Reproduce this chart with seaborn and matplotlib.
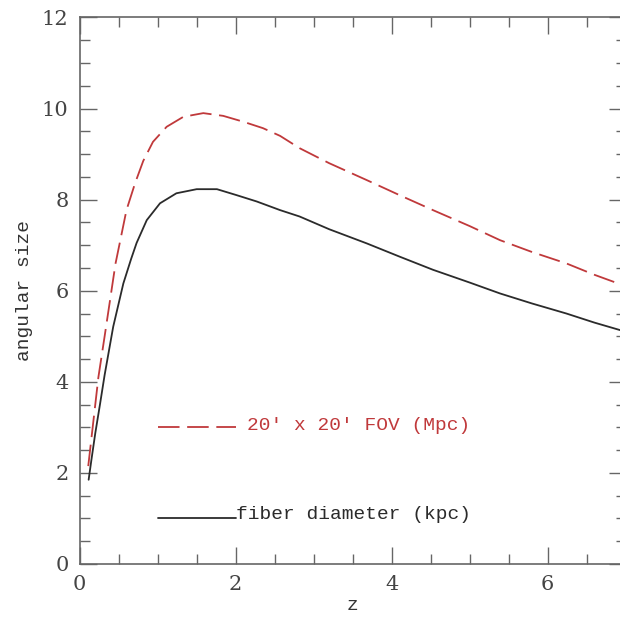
import matplotlib
matplotlib.use("Agg")
import matplotlib.pyplot as plt
import seaborn as sns
import pandas as pd
from matplotlib.ticker import MultipleLocator

# ---- data ----
z_fiber = [0.115, 0.15, 0.20, 0.26, 0.32, 0.43, 0.56, 0.66, 0.73, 0.86, 1.03, 1.24,
           1.5, 1.76, 2.01, 2.27, 2.57, 2.82, 3.2, 3.68, 4.1, 4.53, 5.0, 5.39, 5.8,
           6.24, 6.6, 7.0]
fiber_kpc = [1.85, 2.28, 2.87, 3.5, 4.15, 5.21, 6.16, 6.7, 7.05, 7.55, 7.92, 8.14,
             8.23, 8.23, 8.1, 7.96, 7.77, 7.63, 7.35, 7.04, 6.75, 6.46, 6.18, 5.94,
             5.72, 5.5, 5.3, 5.1]

z_fov = [0.11, 0.13, 0.17, 0.24, 0.32, 0.46, 0.52, 0.60, 0.71, 0.815, 0.94, 1.115,
         1.33, 1.585, 1.84, 2.1, 2.35, 2.57, 2.82, 3.2, 3.68, 4.1, 4.53, 5.0, 5.39,
         5.8, 6.24, 6.6, 7.0]
fov_mpc = [2.15, 2.45, 3.05, 4.1, 5.0, 6.6, 7.1, 7.77, 8.36, 8.85, 9.27, 9.6,
           9.82, 9.9, 9.84, 9.71, 9.57, 9.4, 9.13, 8.8, 8.43, 8.1, 7.77, 7.42, 7.11,
           6.85, 6.6, 6.35, 6.1]

key_x = [1.0, 2.0]
key_fov_y = [3.0, 3.0]
key_fiber_y = [1.0, 1.0]
label_fov = "20' x 20' FOV (Mpc)"
label_fiber = "fiber diameter (kpc)"
x_ticks = [0, 2, 4, 6]
y_ticks = [0, 2, 4, 6, 8, 10, 12]

RED = "#c0393b"
DARK = "#2b2b2b"
GRAY = "#666666"
MONO = ["Liberation Mono", "DejaVu Sans Mono"]

sns.set_style("ticks")
plt.rcParams["font.family"] = ["DejaVu Serif"]
plt.rcParams["lines.scale_dashes"] = False

fig = plt.figure(figsize=(6.2, 6.18), dpi=100)
ax = fig.add_axes([0.1285, 0.0874, 0.8806, 0.8843])

df_fiber = pd.DataFrame({"z": z_fiber, "size": fiber_kpc})
df_fov = pd.DataFrame({"z": z_fov, "size": fov_mpc})
df_kfov = pd.DataFrame({"z": key_x, "size": key_fov_y})
df_kfib = pd.DataFrame({"z": key_x, "size": key_fiber_y})

dash = (0, (15.5, 5.5))
sns.lineplot(data=df_fiber, x="z", y="size", ax=ax, color=DARK, lw=1.3, sort=False)
sns.lineplot(data=df_fov, x="z", y="size", ax=ax, color=RED, lw=1.3, sort=False,
             linestyle=dash)
sns.lineplot(data=df_kfov, x="z", y="size", ax=ax, color=RED, lw=1.3, linestyle=dash)
sns.lineplot(data=df_kfib, x="z", y="size", ax=ax, color=DARK, lw=1.3)

ax.text(2.15, 3.05, label_fov, color=RED, fontsize=14, va="center", ha="left",
        family=MONO)
ax.text(2.01, 1.08, label_fiber, color=DARK, fontsize=14, va="center", ha="left",
        family=MONO)

ax.set_xlim(0, 7)
ax.set_ylim(0, 12)
ax.set_xticks(x_ticks)
ax.set_yticks(y_ticks)
ax.xaxis.set_minor_locator(MultipleLocator(0.5))
ax.yaxis.set_minor_locator(MultipleLocator(0.5))
ax.tick_params(which="both", direction="in", top=True, right=True, color=GRAY,
               width=1.0, labelsize=15, labelcolor="#444444")
ax.tick_params(which="major", length=12, pad=8)
ax.tick_params(which="minor", length=7)
for s in ax.spines.values():
    s.set_color(GRAY)
    s.set_linewidth(1.2)

ax.set_xlabel("z", fontsize=14, color="#333333", labelpad=2, family=MONO)
ax.set_ylabel("angular size", fontsize=14, color="#333333", labelpad=6, family=MONO)

fig.savefig("out.png", dpi=100)
